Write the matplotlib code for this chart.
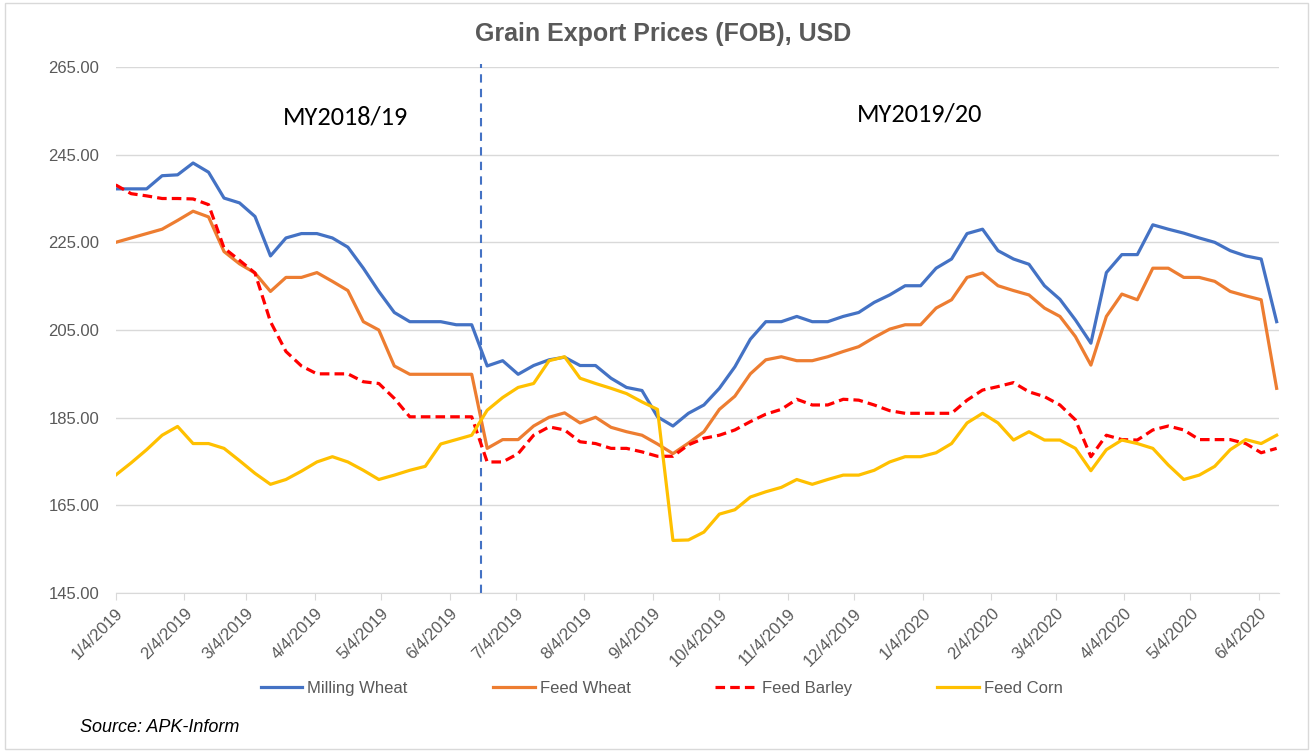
import matplotlib
matplotlib.use("Agg")
import matplotlib.pyplot as plt
import pandas as pd
from matplotlib.patches import Rectangle

plt.rcParams['font.family'] = ['Liberation Sans', 'DejaVu Sans']

# weekly quotes, Fridays from 4 Jan 2019 to 12 Jun 2020
dates = pd.date_range('2019-01-04', periods=76, freq='7D')

milling_wheat = [237.2, 237.2, 237.2, 240.2, 240.4, 243.1, 241.0, 235.1, 234.0, 230.9,
                 221.9, 226.0, 227.0, 227.0, 226.0, 223.9, 219.1, 213.8, 209.0, 206.9,
                 206.9, 206.9, 206.2, 206.2, 196.8, 198.0, 194.9, 196.9, 198.2, 198.8,
                 196.9, 196.9, 194.0, 191.9, 191.2, 185.2, 183.1, 186.0, 187.9, 191.7,
                 196.6, 202.9, 206.9, 206.9, 208.1, 206.9, 206.9, 208.1, 209.0, 211.3,
                 213.0, 215.1, 215.1, 219.1, 221.2, 227.0, 228.0, 223.1, 221.2, 220.0,
                 215.1, 212.0, 207.3, 202.0, 218.1, 222.2, 222.2, 229.0, 228.0, 227.1,
                 226.0, 225.0, 223.1, 221.9, 221.2, 206.9]

feed_wheat = [225.0, 226.0, 227.0, 228.0, 230.0, 232.1, 230.8, 222.9, 220.1, 218.0,
              213.8, 217.0, 217.0, 218.1, 216.1, 214.0, 206.9, 205.0, 196.8, 194.9,
              194.9, 194.9, 194.9, 194.9, 178.0, 180.0, 180.0, 183.1, 185.1, 186.1,
              183.8, 185.1, 182.8, 181.8, 181.0, 179.0, 176.8, 179.2, 181.8, 186.9,
              189.9, 195.0, 198.2, 198.9, 198.0, 198.0, 198.9, 200.1, 201.2, 203.3,
              205.2, 206.2, 206.2, 210.0, 211.9, 217.0, 218.0, 215.1, 214.0, 213.0,
              210.0, 208.1, 203.5, 197.0, 208.1, 213.2, 211.9, 219.1, 219.1, 217.0,
              217.0, 216.1, 213.8, 212.8, 211.9, 191.7]

feed_barley = [238.1, 236.1, 235.6, 235.0, 235.0, 234.9, 233.6, 223.7, 220.9, 218.0,
               206.9, 200.1, 196.8, 195.0, 195.0, 195.0, 193.2, 192.8, 189.4, 185.2,
               185.2, 185.2, 185.2, 185.2, 174.9, 174.9, 176.8, 181.0, 182.9, 182.2,
               179.5, 179.1, 178.0, 178.0, 177.2, 176.2, 176.2, 178.8, 180.3, 181.0,
               182.2, 184.1, 185.8, 186.9, 189.2, 187.9, 187.9, 189.2, 189.0, 187.9,
               186.6, 186.0, 186.0, 186.0, 186.0, 189.0, 191.3, 192.1, 193.0, 190.9,
               189.8, 187.9, 184.5, 176.1, 181.0, 180.0, 179.9, 182.2, 183.1, 182.2,
               180.0, 180.0, 180.0, 179.1, 177.0, 178.0]

feed_corn = [171.9, 174.7, 177.7, 181.0, 183.0, 179.1, 179.1, 178.0, 175.2, 172.3,
             169.8, 170.9, 172.8, 174.9, 176.1, 174.9, 173.0, 170.9, 171.9, 173.0,
             173.9, 179.0, 180.0, 181.0, 186.7, 189.6, 191.9, 192.8, 198.0, 198.9,
             194.0, 192.8, 191.7, 190.5, 188.6, 186.9, 157.0, 157.1, 158.9, 163.0,
             164.0, 166.9, 168.1, 169.1, 170.9, 169.8, 170.9, 171.9, 171.9, 173.0,
             174.9, 176.1, 176.1, 177.0, 179.1, 183.8, 186.0, 183.8, 179.9, 181.8,
             179.9, 179.9, 178.0, 172.9, 177.7, 179.9, 179.1, 178.0, 174.2, 170.9,
             171.9, 173.9, 177.7, 180.0, 179.1, 181.0]

tick_labels = ['1/4/2019', '2/4/2019', '3/4/2019', '4/4/2019', '5/4/2019', '6/4/2019',
               '7/4/2019', '8/4/2019', '9/4/2019', '10/4/2019', '11/4/2019', '12/4/2019',
               '1/4/2020', '2/4/2020', '3/4/2020', '4/4/2020', '5/4/2020', '6/4/2020']
y_ticks = [145, 165, 185, 205, 225, 245, 265]
season_split = '2019-06-18'

grey = '#595959'

fig = plt.figure(figsize=(13.13, 7.52), dpi=100)
fig.patches.append(Rectangle((0.004, 0.004), 0.992, 0.992, transform=fig.transFigure,
                             fill=False, edgecolor='#D9D9D9', linewidth=1))
ax = fig.add_axes([0.0881, 0.2114, 0.8859, 0.6995])

ax.plot(dates, milling_wheat, color='#4472C4', lw=2.3, label='Milling Wheat', zorder=3)
ax.plot(dates, feed_wheat, color='#ED7D31', lw=2.3, label='Feed Wheat', zorder=3)
ax.plot(dates, feed_barley, color='#FF0000', lw=2.3, ls=(0, (3, 1.6)), label='Feed Barley', zorder=3)
ax.plot(dates, feed_corn, color='#FFC000', lw=2.3, label='Feed Corn', zorder=3)

# start of the new marketing year
ax.axvline(pd.Timestamp(season_split), color='#4472C4', lw=1.5, ls=(0, (4, 3)), ymax=1.005, clip_on=False)

ax.set_ylim(145, 265)
ax.set_xlim(dates[0], dates[-1] + pd.Timedelta(days=1))
ax.set_yticks(y_ticks)
ax.set_yticklabels([f'{v:.2f}' for v in y_ticks])
tick_dates = pd.to_datetime(tick_labels, format='%m/%d/%Y')
ax.set_xticks(tick_dates)
ax.set_xticklabels(tick_labels, rotation=45, ha='right', rotation_mode='anchor')

ax.grid(axis='y', color='#D9D9D9', lw=1)
ax.set_axisbelow(True)
for s in ['top', 'right', 'left']:
    ax.spines[s].set_visible(False)
ax.spines['bottom'].set_color('#D9D9D9')
ax.tick_params(axis='y', length=0, labelsize=12, labelcolor=grey, pad=12)
ax.tick_params(axis='x', length=5, color='#D9D9D9', labelsize=12, labelcolor=grey, pad=4)

fig.text(0.2635, 0.844, 'MY2018/19', fontsize=19,
         family=['Carlito', 'Liberation Sans'], ha='center', va='center')
fig.text(0.7007, 0.848, 'MY2019/20', fontsize=19,
         family=['Carlito', 'Liberation Sans'], ha='center', va='center')

fig.text(0.505, 0.955, 'Grain Export Prices (FOB), USD', fontsize=18, fontweight='bold',
         color=grey, ha='center', va='center')
fig.text(0.061, 0.033, 'Source: APK-Inform', fontsize=13, style='italic', ha='left', va='center')

fig.legend(loc='center', bbox_to_anchor=(0.504, 0.085), ncol=4, frameon=False,
           fontsize=12, labelcolor=grey, handlelength=2.5, handletextpad=0.3,
           columnspacing=5.1)

fig.savefig('out.png', dpi=100)
